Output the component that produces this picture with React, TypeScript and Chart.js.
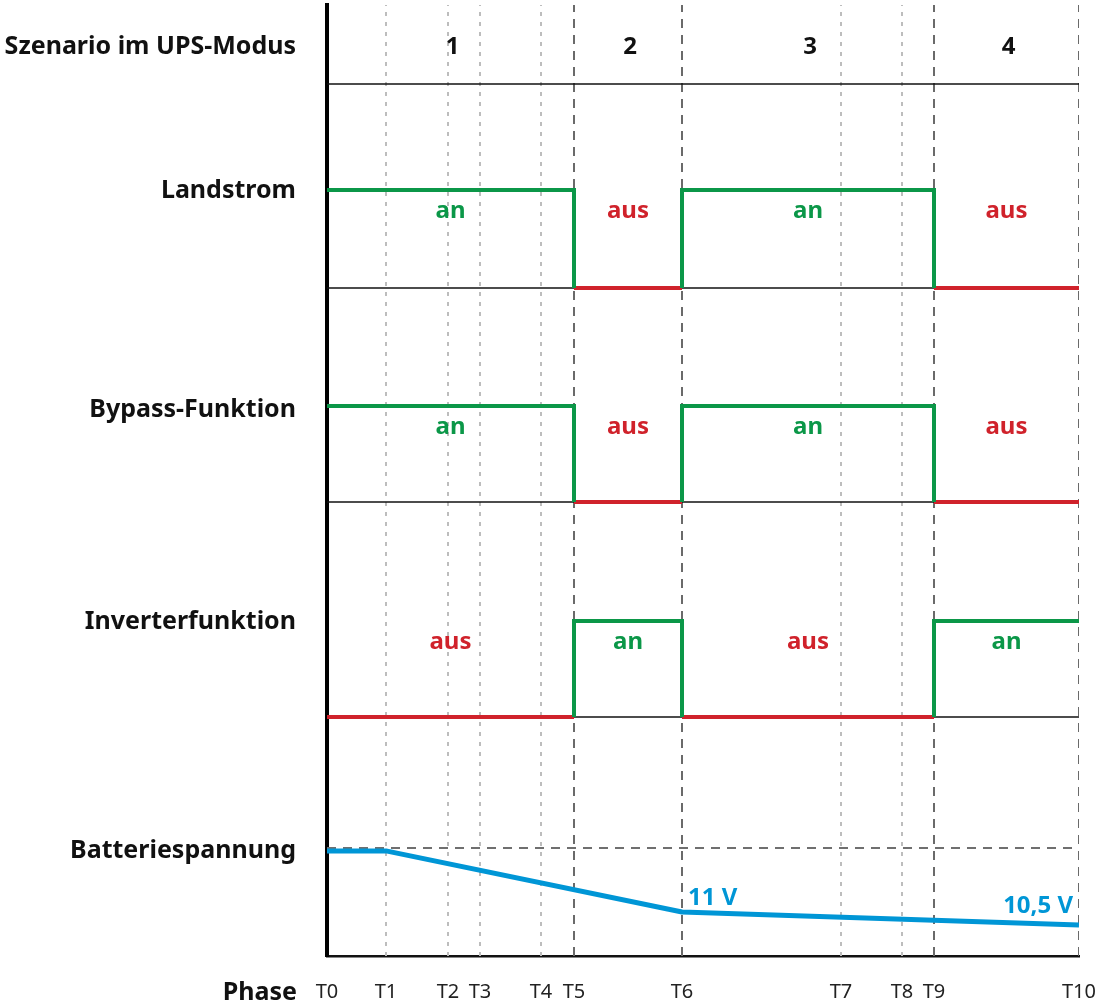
import React, { useEffect, useRef } from 'react';
import { Chart, registerables } from 'chart.js';

Chart.register(...registerables);

// ---------- data ----------
const phases = ['T0', 'T1', 'T2', 'T3', 'T4', 'T5', 'T6', 'T7', 'T8', 'T9', 'T10'];
const phaseTimes = [0, 59, 121, 153, 214, 247, 355, 514, 575, 607, 752];

const scenarios = ['1', '2', '3', '4'];
const scenarioStart = ['T0', 'T5', 'T6', 'T9'];
const scenarioEnd = ['T5', 'T6', 'T9', 'T10'];

const landstrom = ['an', 'aus', 'an', 'aus'];
const bypassFunktion = ['an', 'aus', 'an', 'aus'];
const inverterFunktion = ['aus', 'an', 'aus', 'an'];

const batteryPhases = ['T0', 'T1', 'T6', 'T10'];
const batteryVolts = [13.35, 13.35, 11.0, 10.5];
const batteryTags = ['', '', '11 V', '10,5 V'];
const batteryRefVolts = 13.46;

const rowLabels = ['Szenario im UPS-Modus', 'Landstrom', 'Bypass-Funktion', 'Inverterfunktion', 'Batteriespannung'];
const phaseAxisLabel = 'Phase';

// ---------- layout / style constants ----------
const W = 1097;
const H = 1007;
const Y_MAX = 951; // plot units (1 unit ≈ 1 px)
const HEADER_LINE = 872;
const ROW_LEVELS = [
  { hi: 766, lo: 668 },
  { hi: 550, lo: 454 },
  { hi: 335, lo: 239 },
];
const LABEL_Y = [909, 765.5, 546, 334, 105];
const V_PX = 26; // px per volt
const V_AT_AXIS = 11 - 44 / 26;

const FONT = "'Noto Sans', 'DejaVu Sans', sans-serif";
const GREEN = '#0b9748';
const RED = '#d0222b';
const BLUE = '#0096d6';

const tOf = (p: string) => phaseTimes[phases.indexOf(p)];

function stepSeries(states: string[], hi: number, lo: number) {
  const on: any[] = [];
  const off: any[] = [];
  states.forEach((s, i) => {
    const x0 = tOf(scenarioStart[i]);
    const x1 = tOf(scenarioEnd[i]);
    if (s === 'an') {
      if (i > 0 && states[i - 1] !== 'an') on.push({ x: x0, y: lo });
      on.push({ x: x0, y: hi }, { x: x1, y: hi });
      if (i < states.length - 1 && states[i + 1] !== 'an') on.push({ x: x1, y: lo });
      on.push({ x: x1, y: null });
    } else {
      off.push({ x: x0, y: lo }, { x: x1, y: lo }, { x: x1, y: null });
    }
  });
  return { on, off };
}

const zeroPad = (scale: any) => {
  scale.paddingTop = 0;
  scale.paddingBottom = 0;
  scale.paddingLeft = 0;
  scale.paddingRight = 0;
};

export default function App() {
  const ref = useRef<HTMLCanvasElement | null>(null);

  useEffect(() => {
    if (!ref.current) return;
    const rows = [landstrom, bypassFunktion, inverterFunktion];
    const tMax = phaseTimes[phaseTimes.length - 1];
    const datasets: any[] = [];

    const base = {
      pointRadius: 0,
      pointHoverRadius: 0,
      fill: false,
      tension: 0,
      spanGaps: false,
      borderJoinStyle: 'miter',
      borderCapStyle: 'butt',
    };

    rows.forEach((states, r) => {
      const { on, off } = stepSeries(states, ROW_LEVELS[r].hi, ROW_LEVELS[r].lo);
      datasets.push({ ...base, data: off, borderColor: RED, borderWidth: 4, order: 1, xAxisID: 'x', yAxisID: 'y' });
      datasets.push({ ...base, data: on, borderColor: GREEN, borderWidth: 4, order: 0, xAxisID: 'x', yAxisID: 'y' });
    });

    datasets.push({
      ...base,
      data: batteryPhases.map((p, i) => ({ x: tOf(p), y: batteryVolts[i] })),
      borderColor: BLUE,
      borderWidth: 5,
      borderJoinStyle: 'round',
      order: 0,
      xAxisID: 'x',
      yAxisID: 'yV',
    });
    datasets.push({
      ...base,
      data: [{ x: 0, y: batteryRefVolts }, { x: tMax, y: batteryRefVolts }],
      borderColor: '#6f6f6f',
      borderWidth: 2,
      borderDash: [9, 7],
      order: 3,
      xAxisID: 'x',
      yAxisID: 'yV',
    });

    // horizontal separators
    [HEADER_LINE, ...ROW_LEVELS.map((l) => l.lo)].forEach((y) => {
      datasets.push({
        ...base,
        data: [{ x: 0, y }, { x: tMax, y }],
        borderColor: '#111111',
        borderWidth: 1.6,
        order: 2,
        xAxisID: 'x',
        yAxisID: 'y',
      });
    });

    // vertical phase lines
    phases.forEach((p, i) => {
      if (i === 0) return;
      const major = scenarioEnd.includes(p);
      datasets.push({
        ...base,
        data: [{ x: phaseTimes[i], y: 0 }, { x: phaseTimes[i], y: Y_MAX }],
        borderColor: major ? '#6a6a6a' : '#bdbdbd',
        borderWidth: 2,
        borderDash: major ? [9, 7] : [4, 6],
        order: major ? 4 : 5,
        xAxisID: 'x',
        yAxisID: 'y',
      });
    });

    const textPlugin = {
      id: 'texts',
      afterDatasetsDraw(chart: any) {
        const ctx = chart.ctx;
        const xs = chart.scales.x;
        const ys = chart.scales.y;
        const yv = chart.scales.yV;
        ctx.save();
        ctx.font = `bold 24px ${FONT}`;
        // scenario numbers
        ctx.fillStyle = '#111';
        ctx.textAlign = 'center';
        ctx.textBaseline = 'middle';
        scenarios.forEach((s, i) => {
          const cx = (xs.getPixelForValue(tOf(scenarioStart[i])) + xs.getPixelForValue(tOf(scenarioEnd[i]))) / 2;
          ctx.fillText(s, cx + 2, ys.getPixelForValue(LABEL_Y[0]));
        });
        // state labels
        ctx.textBaseline = 'alphabetic';
        rows.forEach((states, r) => {
          const by = ys.getPixelForValue(ROW_LEVELS[r].hi) + 28;
          states.forEach((s, i) => {
            const cx = (xs.getPixelForValue(tOf(scenarioStart[i])) + xs.getPixelForValue(tOf(scenarioEnd[i]))) / 2;
            ctx.fillStyle = s === 'an' ? GREEN : RED;
            ctx.fillText(s, cx, by);
          });
        });
        // battery tags
        ctx.fillStyle = BLUE;
        batteryTags.forEach((tag, i) => {
          if (!tag) return;
          const px = xs.getPixelForValue(tOf(batteryPhases[i]));
          const py = yv.getPixelForValue(batteryVolts[i]);
          if (i === batteryTags.length - 1) {
            ctx.textAlign = 'right';
            ctx.fillText(tag, px - 6, py - 12);
          } else {
            ctx.textAlign = 'left';
            ctx.fillText(tag, px + 6, py - 7);
          }
        });
        // phase axis label
        ctx.fillStyle = '#111';
        ctx.textAlign = 'right';
        ctx.textBaseline = 'middle';
        ctx.font = `bold 25px ${FONT}`;
        ctx.fillText(phaseAxisLabel, chart.chartArea.left - 30, chart.chartArea.bottom + 37);
        ctx.restore();
      },
    };

    const chart = new Chart(ref.current, {
      type: 'line',
      data: { datasets },
      options: {
        animation: false,
        responsive: false,
        devicePixelRatio: 1,
        layout: { padding: { top: 5, right: 18, left: 0, bottom: 0 } },
        plugins: { legend: { display: false }, tooltip: { enabled: false }, title: { display: false } },
        events: [],
        scales: {
          x: {
            type: 'linear',
            min: 0,
            max: tMax,
            afterBuildTicks: (scale: any) => {
              scale.ticks = phaseTimes.map((v) => ({ value: v }));
            },
            afterFit: (scale: any) => {
              scale.height = H - 956;
              zeroPad(scale);
            },
            ticks: {
              autoSkip: false,
              maxRotation: 0,
              padding: 24,
              color: '#222',
              font: { family: FONT, size: 20 },
              callback: (v: any) => {
                const i = phaseTimes.indexOf(Number(v));
                return i >= 0 ? phases[i] : '';
              },
            },
            grid: { display: false, drawTicks: false },
            border: { display: true, color: '#111', width: 2.5 },
          },
          y: {
            type: 'linear',
            min: 0,
            max: Y_MAX,
            afterBuildTicks: (scale: any) => {
              scale.ticks = LABEL_Y.map((v) => ({ value: v }));
            },
            afterFit: (scale: any) => {
              scale.width = 327;
              zeroPad(scale);
            },
            ticks: {
              autoSkip: false,
              padding: 31,
              color: '#111',
              font: { family: FONT, size: 25, weight: 'bold' },
              callback: (v: any) => {
                const i = LABEL_Y.indexOf(Number(v));
                return i >= 0 ? rowLabels[i] : '';
              },
            },
            grid: { display: false, drawTicks: false },
            border: { display: true, color: '#000', width: 4 },
          },
          yV: {
            type: 'linear',
            display: false,
            min: V_AT_AXIS,
            max: V_AT_AXIS + Y_MAX / V_PX,
            afterFit: zeroPad,
          },
        },
      },
      plugins: [textPlugin],
    } as any);
    return () => chart.destroy();
  }, []);

  return (
    <div style={{ position: 'absolute', left: 0, top: 0, width: W, height: H, background: '#fff' }}>
      <canvas ref={ref} width={W} height={H} style={{ display: 'block', width: W, height: H }} />
    </div>
  );
}
